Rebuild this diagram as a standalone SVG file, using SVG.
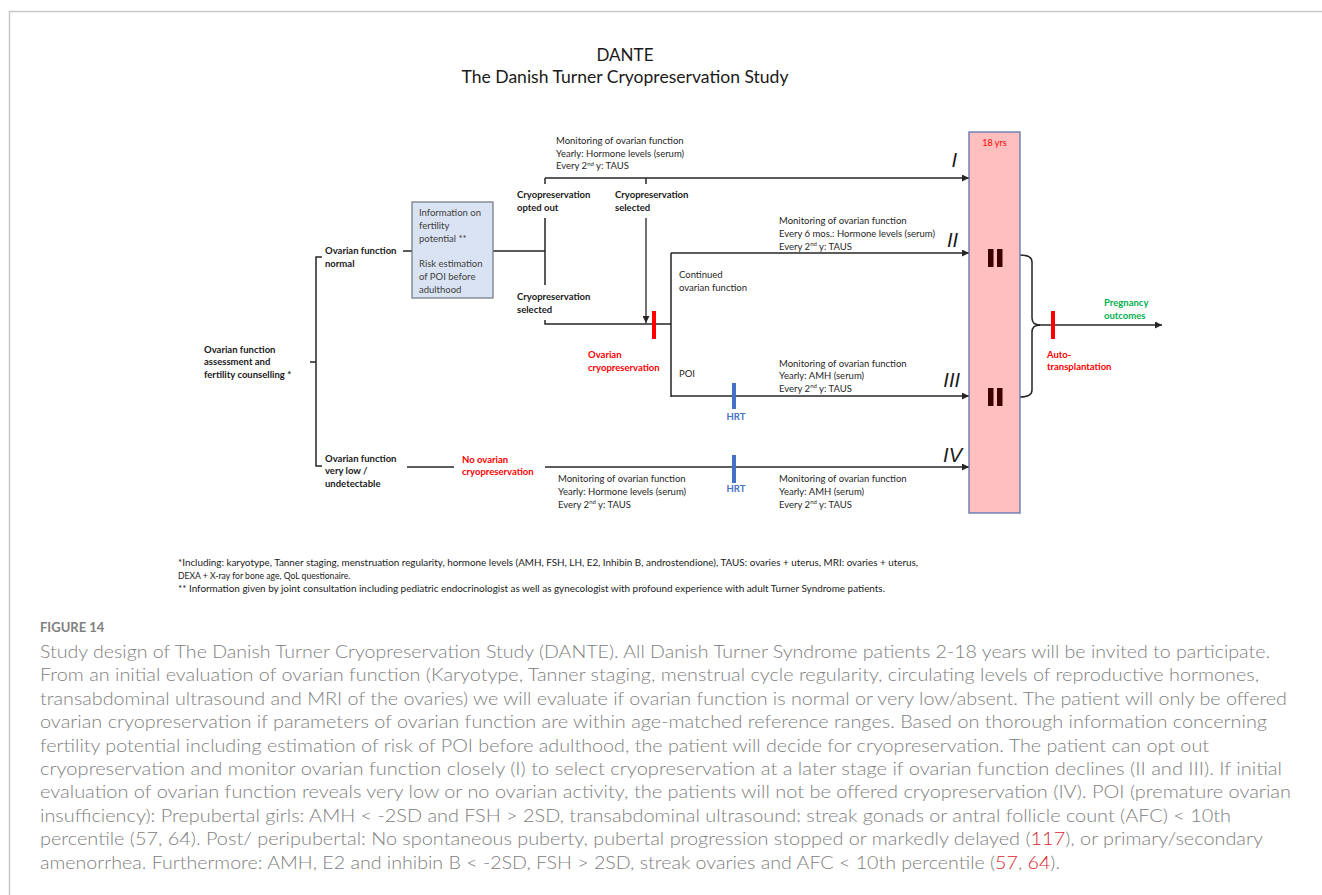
<svg xmlns="http://www.w3.org/2000/svg" width="1322" height="895" viewBox="0 0 1322 895">
<style>
text{font-family:Lato,"Liberation Sans",sans-serif;}
.t{font-size:9.5px;fill:#262626;}
.b{font-size:9.5px;font-weight:bold;fill:#1a1a1a;}
.g{font-size:9.5px;fill:#404040;}
.r{font-size:9.5px;font-weight:bold;fill:#ff0000;}
.gr{font-size:9.5px;font-weight:bold;fill:#00b050;}
.bl{font-size:9.5px;font-weight:bold;fill:#4472c4;}
.rn{font-family:"Liberation Sans",Arial,sans-serif;font-size:20px;font-style:italic;fill:#1a1a1a;}
.title{font-size:17px;fill:#1a1a1a;}
.fn{font-size:8.6px;fill:#1a1a1a;}
.cap{font-size:17px;font-weight:300;fill:#808080;}
.ref{fill:#d7262e;}
.ln{fill:none;stroke:#262626;stroke-width:1.5;}
.ar{fill:none;stroke:#262626;stroke-width:1.3;marker-end:url(#ah);}
.sup{font-size:6px;}
</style>
<defs>
<marker id="ah" viewBox="0 0 10 10" refX="10" refY="5" markerWidth="8" markerHeight="7" markerUnits="userSpaceOnUse" orient="auto">
<path d="M0,0 L10,5 L0,10 z" fill="#262626"/>
</marker>
</defs>
<rect width="1322" height="895" fill="#ffffff"/>
<path d="M9.5,895 V11.5 H1322" fill="none" stroke="#c8c8c8" stroke-width="1.5"/>

<g id="title">
<text class="title" x="625" y="61" text-anchor="middle">DANTE</text>
<text class="title" x="625" y="83" text-anchor="middle" textLength="327" lengthAdjust="spacingAndGlyphs">The Danish Turner Cryopreservation Study</text>
</g>

<g id="connectors">
<path class="ln" d="M310,362 H316 M322,257 H316 V466 H322"/>
<path class="ln" d="M403,251 H412 M493,251 H545"/>
<path class="ln" d="M545,184 V178 M646,184 V178 M545,218 V285 M545,320 V324 H671 M671,253 V397"/>
<path class="ar" d="M545,178 H969"/>
<path class="ar" d="M646,218 V323"/>
<path class="ar" d="M671,253 H969"/>
<path class="ar" d="M671,396 H969"/>
<path class="ln" d="M407,467 H454"/>
<path class="ar" d="M545,467 H969"/>
<path class="ln" d="M1020,255 Q1032,255 1032,262 V318 Q1032,325 1040,325 Q1032,325 1032,332 V390 Q1032,397 1020,397"/>
<path class="ar" d="M1037,325 H1162"/>
</g>

<g id="events">
<rect x="652" y="311" width="4" height="28" fill="#ff0000"/>
<rect x="1051" y="311" width="4" height="28" fill="#ff0000"/>
<rect x="732" y="383" width="4" height="26" fill="#4472c4"/>
<rect x="732" y="455" width="4" height="28" fill="#4472c4"/>
<text class="bl" x="736" y="420" text-anchor="middle">HRT</text>
<text class="bl" x="736" y="492" text-anchor="middle">HRT</text>
</g>

<g id="node-assessment">
<text class="b" x="204" y="352.5">Ovarian function</text>
<text class="b" x="204" y="365">assessment and</text>
<text class="b" x="204" y="377.5">fertility counselling *</text>
</g>

<g id="node-normal">
<text class="b" x="325" y="253.5">Ovarian function</text>
<text class="b" x="325" y="266.5">normal</text>
</g>

<g id="node-info">
<rect x="412" y="202" width="81" height="96" fill="#dae3f3" stroke="#6f7580" stroke-width="1.2"/>
<text class="g" x="419" y="215.5">Information on</text>
<text class="g" x="419" y="228.5">fertility</text>
<text class="g" x="419" y="241.5">potential **</text>
<text class="g" x="419" y="266.5">Risk estimation</text>
<text class="g" x="419" y="279.5">of POI before</text>
<text class="g" x="419" y="292.5">adulthood</text>
</g>

<g id="node-low">
<text class="b" x="325" y="461.5">Ovarian function</text>
<text class="b" x="325" y="474">very low /</text>
<text class="b" x="325" y="486.5">undetectable</text>
</g>

<g id="node-no-cryo">
<text class="r" x="462" y="462.5">No ovarian</text>
<text class="r" x="462" y="475">cryopreservation</text>
</g>

<g id="node-opted-out">
<text class="b" x="517" y="198">Cryopreservation</text>
<text class="b" x="517" y="211">opted out</text>
</g>

<g id="node-selected-later">
<text class="b" x="615" y="198">Cryopreservation</text>
<text class="b" x="615" y="211">selected</text>
</g>

<g id="node-selected">
<text class="b" x="517" y="299.5">Cryopreservation</text>
<text class="b" x="517" y="312.5">selected</text>
</g>

<g id="node-ovarian-cryo">
<text class="r" x="588" y="357.5">Ovarian</text>
<text class="r" x="588" y="370.5">cryopreservation</text>
</g>

<g id="node-monitor-I">
<text class="t" x="556" y="144">Monitoring of ovarian function</text>
<text class="t" x="556" y="156.5">Yearly: Hormone levels (serum)</text>
<text class="t" x="556" y="169">Every 2<tspan class="sup" dy="-3.5">nd</tspan><tspan dy="3.5"> y: TAUS</tspan></text>
<text class="rn" x="957" y="167" text-anchor="end">I</text>
</g>

<g id="node-continued">
<text class="t" x="679" y="278">Continued</text>
<text class="t" x="679" y="291">ovarian function</text>
</g>

<g id="node-monitor-II">
<text class="t" x="779" y="223.5">Monitoring of ovarian function</text>
<text class="t" x="779" y="236.5">Every 6 mos.: Hormone levels (serum)</text>
<text class="t" x="779" y="249.5">Every 2<tspan class="sup" dy="-3.5">nd</tspan><tspan dy="3.5"> y: TAUS</tspan></text>
<text class="rn" x="958" y="247" text-anchor="end">II</text>
</g>

<g id="node-poi">
<text class="t" x="679" y="376.5">POI</text>
</g>

<g id="node-monitor-III">
<text class="t" x="779" y="366.5">Monitoring of ovarian function</text>
<text class="t" x="779" y="378.5">Yearly: AMH (serum)</text>
<text class="t" x="779" y="391.5">Every 2<tspan class="sup" dy="-3.5">nd</tspan><tspan dy="3.5"> y: TAUS</tspan></text>
<text class="rn" x="960" y="387" text-anchor="end">III</text>
</g>

<g id="node-monitor-IV">
<text class="t" x="558" y="481.5">Monitoring of ovarian function</text>
<text class="t" x="558" y="494.5">Yearly: Hormone levels (serum)</text>
<text class="t" x="558" y="507.5">Every 2<tspan class="sup" dy="-3.5">nd</tspan><tspan dy="3.5"> y: TAUS</tspan></text>
<text class="t" x="779" y="481.5">Monitoring of ovarian function</text>
<text class="t" x="779" y="494.5">Yearly: AMH (serum)</text>
<text class="t" x="779" y="507.5">Every 2<tspan class="sup" dy="-3.5">nd</tspan><tspan dy="3.5"> y: TAUS</tspan></text>
<text class="rn" x="962" y="462" text-anchor="end">IV</text>
</g>

<g id="node-18yrs">
<rect x="969" y="132" width="51" height="381" fill="#ffbfbf" stroke="#5b73b0" stroke-width="1.3"/>
<text x="994.5" y="146" text-anchor="middle" style="font-size:9px;fill:#ff0000;">18 yrs</text>
<rect x="988" y="249" width="5.5" height="18" fill="#3c0000"/>
<rect x="997" y="249" width="5.5" height="18" fill="#3c0000"/>
<rect x="988" y="388" width="5.5" height="18" fill="#3c0000"/>
<rect x="997" y="388" width="5.5" height="18" fill="#3c0000"/>
</g>

<g id="node-pregnancy">
<text class="gr" x="1104" y="305.5">Pregnancy</text>
<text class="gr" x="1104" y="318.5">outcomes</text>
</g>

<g id="node-autotransplantation">
<text class="r" x="1047" y="357.5">Auto-</text>
<text class="r" x="1047" y="370">transplantation</text>
</g>

<g id="footnotes">
<text class="fn" x="178" y="566" textLength="740" lengthAdjust="spacingAndGlyphs">*Including: karyotype, Tanner staging, menstruation regularity, hormone levels (AMH, FSH, LH, E2, Inhibin B, androstendione), TAUS: ovaries + uterus, MRI: ovaries + uterus,</text>
<text class="fn" x="178" y="579">DEXA + X-ray for bone age, QoL questionaire.</text>
<text class="fn" x="178" y="592" textLength="707" lengthAdjust="spacingAndGlyphs">** Information given by joint consultation including pediatric endocrinologist as well as gynecologist with profound experience with adult Turner Syndrome patients.</text>
</g>

<g id="caption">
<text x="40" y="632" style="font-size:13px;font-weight:bold;fill:#808080;">FIGURE 14</text>
<text class="cap" x="40" y="658" textLength="1230" lengthAdjust="spacingAndGlyphs">Study design of The Danish Turner Cryopreservation Study (DANTE). All Danish Turner Syndrome patients 2-18 years will be invited to participate.</text>
<text class="cap" x="40" y="681.4" textLength="1219" lengthAdjust="spacingAndGlyphs">From an initial evaluation of ovarian function (Karyotype, Tanner staging, menstrual cycle regularity, circulating levels of reproductive hormones,</text>
<text class="cap" x="40" y="704.8" textLength="1247" lengthAdjust="spacingAndGlyphs">transabdominal ultrasound and MRI of the ovaries) we will evaluate if ovarian function is normal or very low/absent. The patient will only be offered</text>
<text class="cap" x="40" y="728.2" textLength="1227" lengthAdjust="spacingAndGlyphs">ovarian cryopreservation if parameters of ovarian function are within age-matched reference ranges. Based on thorough information concerning</text>
<text class="cap" x="40" y="751.6" textLength="1169" lengthAdjust="spacingAndGlyphs">fertility potential including estimation of risk of POI before adulthood, the patient will decide for cryopreservation. The patient can opt out</text>
<text class="cap" x="40" y="775" textLength="1242" lengthAdjust="spacingAndGlyphs">cryopreservation and monitor ovarian function closely (I) to select cryopreservation at a later stage if ovarian function declines (II and III). If initial</text>
<text class="cap" x="40" y="798.4" textLength="1251" lengthAdjust="spacingAndGlyphs">evaluation of ovarian function reveals very low or no ovarian activity, the patients will not be offered cryopreservation (IV). POI (premature ovarian</text>
<text class="cap" x="40" y="821.8" textLength="1191" lengthAdjust="spacingAndGlyphs">insufficiency): Prepubertal girls: AMH &lt; -2SD and FSH &gt; 2SD, transabdominal ultrasound: streak gonads or antral follicle count (AFC) &lt; 10th</text>
<text class="cap" x="40" y="845.2" textLength="1223" lengthAdjust="spacingAndGlyphs">percentile (57, 64). Post/ peripubertal: No spontaneous puberty, pubertal progression stopped or markedly delayed (<tspan class="ref">117</tspan>), or primary/secondary</text>
<text class="cap" x="40" y="868.6" textLength="1020" lengthAdjust="spacingAndGlyphs">amenorrhea. Furthermore: AMH, E2 and inhibin B &lt; -2SD, FSH &gt; 2SD, streak ovaries and AFC &lt; 10th percentile (<tspan class="ref">57</tspan>, <tspan class="ref">64</tspan>).</text>
</g>
</svg>
